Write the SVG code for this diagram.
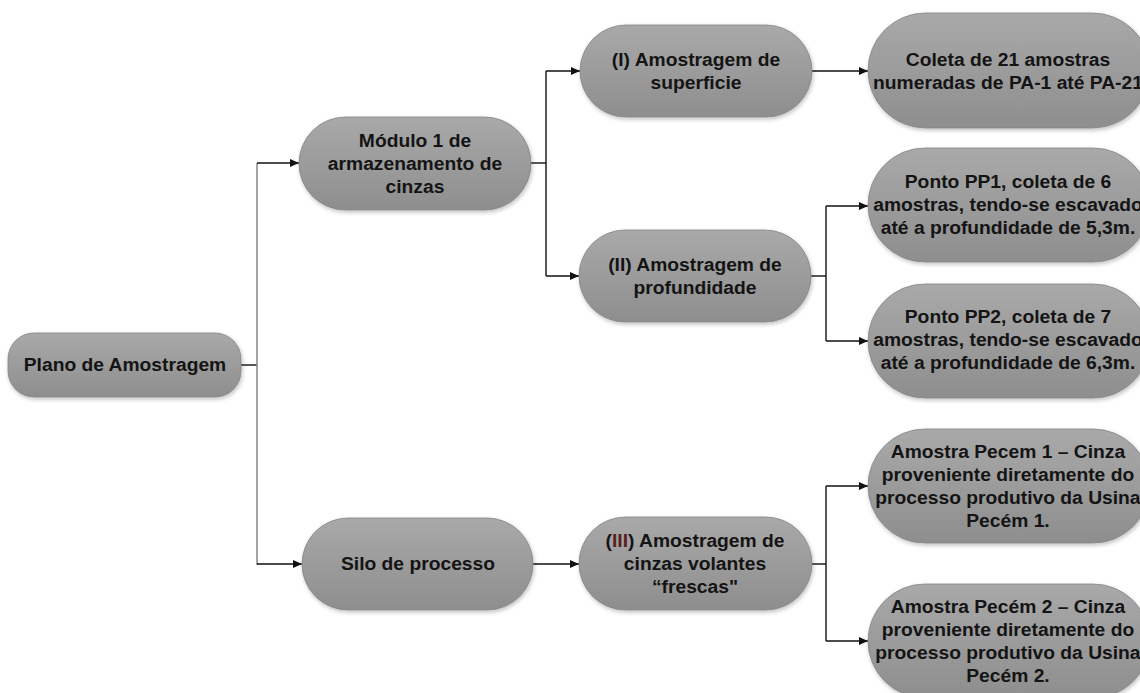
<svg xmlns="http://www.w3.org/2000/svg" width="1140" height="693" viewBox="0 0 1140 693">
<defs>
<linearGradient id="g" x1="0" y1="0" x2="0" y2="1">
<stop offset="0" stop-color="#a9a9a9"/>
<stop offset="1" stop-color="#8e8e8e"/>
</linearGradient>
<filter id="sh" x="-10%" y="-10%" width="120%" height="130%">
<feGaussianBlur in="SourceAlpha" stdDeviation="2"/>
<feOffset dx="1" dy="2"/>
<feComponentTransfer><feFuncA type="linear" slope="0.25"/></feComponentTransfer>
<feMerge><feMergeNode/><feMergeNode in="SourceGraphic"/></feMerge>
</filter>
<marker id="ar" markerUnits="userSpaceOnUse" markerWidth="10" markerHeight="8" refX="9" refY="4" orient="auto">
<path d="M0,0 L9,4 L0,8 z" fill="#111"/>
</marker>
</defs>
<style>
.n{fill:url(#g);stroke:#858585;stroke-width:0.8;filter:url(#sh)}
.t{font-family:"Liberation Sans",Arial,sans-serif;font-weight:bold;font-size:18px;fill:#141414;text-anchor:middle;transform-box:fill-box;transform-origin:center;transform:scaleX(1.07)}
.c{fill:none;stroke:#111;stroke-width:1.4}
.a{marker-end:url(#ar)}
.gr{stroke:#8c8c8c;stroke-width:1.6}
</style>
<rect width="1140" height="693" fill="#fff"/>
<g id="connectors">
<path class="c" d="M241,365 H257"/>
<path class="c gr" d="M257,163 V565"/>
<path class="c a" d="M257,163 H299"/>
<path class="c a" d="M257,564 H302"/>
<path class="c" d="M531,163 H546"/>
<path class="c" d="M546,71 V276"/>
<path class="c a" d="M546,71 H580"/>
<path class="c a" d="M546,276 H579"/>
<path class="c a" d="M812,71 H868"/>
<path class="c" d="M811,276 H826"/>
<path class="c" d="M826,206 V341"/>
<path class="c a" d="M826,206 H868"/>
<path class="c a" d="M826,341 H868"/>
<path class="c a" d="M533,564 H579"/>
<path class="c" d="M812,564 H826"/>
<path class="c" d="M826,486 V641"/>
<path class="c a" d="M826,486 H868"/>
<path class="c a" d="M826,641 H868"/>
</g>
<g id="plano">
<rect class="n" x="8" y="333" width="233" height="64" rx="26"/>
<text class="t" x="125" y="371">Plano de Amostragem</text>
</g>
<g id="modulo">
<rect class="n" x="299" y="117" width="232" height="93" rx="46.5"/>
<text class="t" x="415" y="147">Módulo 1 de</text>
<text class="t" x="415" y="170">armazenamento de</text>
<text class="t" x="415" y="193">cinzas</text>
</g>
<g id="silo">
<rect class="n" x="302" y="518" width="231" height="92" rx="46"/>
<text class="t" x="418" y="570">Silo de processo</text>
</g>
<g id="amostragem1">
<rect class="n" x="580" y="25" width="232" height="92" rx="46"/>
<text class="t" x="696" y="66">(I) Amostragem de</text>
<text class="t" x="696" y="89">superficie</text>
</g>
<g id="amostragem2">
<rect class="n" x="579" y="230" width="232" height="92" rx="46"/>
<text class="t" x="695" y="271">(II) Amostragem de</text>
<text class="t" x="695" y="294">profundidade</text>
</g>
<g id="amostragem3">
<rect class="n" x="579" y="517" width="233" height="93" rx="46.5"/>
<text class="t" x="695" y="547">(<tspan fill="#5a2020">III</tspan>) Amostragem de</text>
<text class="t" x="695" y="570">cinzas volantes</text>
<text class="t" x="695" y="593">“frescas"</text>
</g>
<g id="coleta">
<rect class="n" x="868" y="13" width="282" height="115" rx="57.5"/>
<text class="t" x="1008" y="66">Coleta de 21 amostras</text>
<text class="t" x="1008" y="89">numeradas de PA-1 até PA-21</text>
</g>
<g id="pp1">
<rect class="n" x="868" y="148" width="282" height="114" rx="57"/>
<text class="t" x="1008" y="188">Ponto PP1, coleta de 6</text>
<text class="t" x="1008" y="211">amostras, tendo-se escavado</text>
<text class="t" x="1008" y="234">até a profundidade de 5,3m.</text>
</g>
<g id="pp2">
<rect class="n" x="868" y="284" width="282" height="114" rx="57"/>
<text class="t" x="1008" y="323">Ponto PP2, coleta de 7</text>
<text class="t" x="1008" y="346">amostras, tendo-se escavado</text>
<text class="t" x="1008" y="369">até a profundidade de 6,3m.</text>
</g>
<g id="pecem1">
<rect class="n" x="868" y="429" width="282" height="114" rx="57"/>
<text class="t" x="1008" y="458">Amostra Pecem 1 – Cinza</text>
<text class="t" x="1008" y="481">proveniente diretamente do</text>
<text class="t" x="1008" y="504">processo produtivo da Usina</text>
<text class="t" x="1008" y="527">Pecém 1.</text>
</g>
<g id="pecem2">
<rect class="n" x="868" y="584" width="282" height="114" rx="57"/>
<text class="t" x="1008" y="613">Amostra Pecém 2 – Cinza</text>
<text class="t" x="1008" y="636">proveniente diretamente do</text>
<text class="t" x="1008" y="659">processo produtivo da Usina</text>
<text class="t" x="1008" y="682">Pecém 2.</text>
</g>
</svg>
